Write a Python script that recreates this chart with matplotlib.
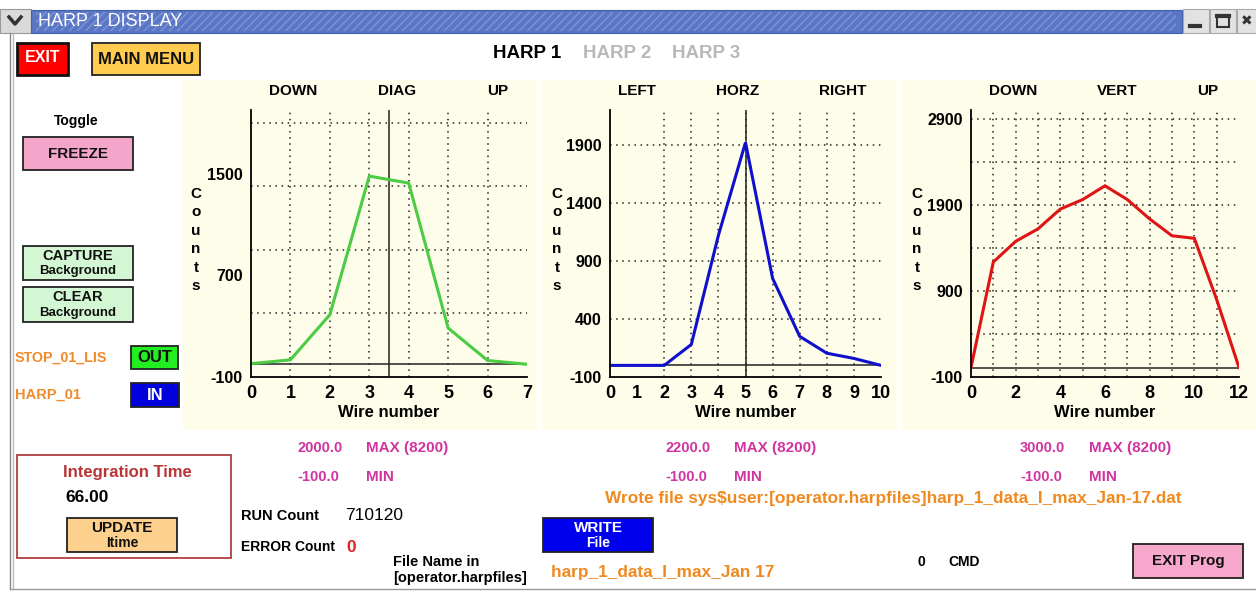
import matplotlib
matplotlib.use('Agg')
import matplotlib.pyplot as plt
from matplotlib.patches import Rectangle

plt.rcParams['font.family'] = ['Liberation Sans', 'DejaVu Sans']
plt.rcParams['font.weight'] = 'bold'

W, H = 1256, 592

diag_wires = [0, 1, 2, 3, 4, 5, 6, 7]
diag_counts = [5, 35, 390, 1480, 1425, 285, 30, 0]

horz_wires = [0, 1, 2, 3, 4, 5, 6, 7, 8, 9, 10]
horz_counts = [0, 0, 0, 180, 1120, 1920, 750, 250, 105, 60, 0]

vert_wires = [0, 1, 2, 3, 4, 5, 6, 7, 8, 9, 10, 11, 12]
vert_counts = [10, 1235, 1475, 1620, 1850, 1960, 2120, 1960, 1735, 1540, 1510, 800, 10]

diag_yticks = [-100, 700, 1500]
horz_yticks = [-100, 400, 900, 1400, 1900]
vert_yticks = [-100, 900, 1900, 2900]

max_vals = ['2000.0', '2200.0', '3000.0']
min_vals = ['-100.0', '-100.0', '-100.0']

CREAM = '#fdfdea'

fig = plt.figure(figsize=(W / 100, H / 100), dpi=100)
bg = fig.add_axes([0, 0, 1, 1])
bg.set_xlim(0, W)
bg.set_ylim(H, 0)
bg.axis('off')


def box(x0, y0, x1, y1, face, edge='#222222', lw=1.3, **kw):
    bg.add_patch(Rectangle((x0, y0), x1 - x0, y1 - y0, facecolor=face,
                           edgecolor=edge, lw=lw, **kw))


def txt(x, y, s, size=10, color='black', ha='left', weight='bold', **kw):
    bg.text(x, y, s, fontsize=size, color=color, ha=ha, va='center',
            fontweight=weight, **kw)


def button(x0, y0, x1, y1, face, lines, tcolor='#111111', size=10.5):
    box(x0, y0, x1, y1, face)
    cx = (x0 + x1) / 2
    if len(lines) == 1:
        txt(cx, (y0 + y1) / 2, lines[0], size, tcolor, ha='center')
    else:
        txt(cx, y0 + (y1 - y0) * 0.28, lines[0], size, tcolor, ha='center')
        txt(cx, y0 + (y1 - y0) * 0.74, lines[1], size - 1, tcolor, ha='center')


# window title bar
box(0, 9, 31, 33, '#dadada', edge='#999999', lw=0.8)
bg.plot([9, 15, 21], [17, 24, 17], color='#333333', lw=2.5)
box(31, 10, 1182, 33, '#5a76c4', edge='#4060b0', lw=0.8)
bg.add_patch(Rectangle((36, 12), 1140, 19, facecolor='none',
                       edgecolor='#7e96d8', lw=0, hatch='////'))
txt(38, 21.5, 'HARP 1 DISPLAY', 13, 'white', weight='normal')
for x0 in [1183, 1210, 1237]:
    box(x0, 9, x0 + 26, 33, '#e2e2e2', edge='#aaaaaa', lw=0.8)
bg.plot([1190, 1200], [26, 26], color='#333333', lw=3)
box(1217, 15, 1229, 27, 'none', edge='#333333', lw=1.5)
bg.plot([1217, 1229], [16, 16], color='#333333', lw=3)
txt(1247, 21, '✖', 10, '#333333', ha='center', family='DejaVu Sans')

# window border
bg.plot([10, 10], [33, 589], color='#888888', lw=1)
bg.plot([13, 13], [33, 589], color='#bbbbbb', lw=1)
bg.plot([10, W], [589, 589], color='#999999', lw=1)

# top row
box(17, 43, 68, 75, '#ff0000', edge='#111111', lw=2)
txt(43, 58, 'EXIT', 11.5, 'white', ha='center')
button(92, 43, 200, 75, '#ffcc4f', ['MAIN MENU'], size=12)
txt(527, 54, 'HARP 1', 13.5, 'black', ha='center')
txt(617, 54, 'HARP 2', 13.5, '#b8b8b8', ha='center')
txt(706, 54, 'HARP 3', 13.5, '#b8b8b8', ha='center')

# left column
txt(76, 121, 'Toggle', 10, ha='center')
button(23, 137, 133, 170, '#f4a6ca', ['FREEZE'], size=11)
button(23, 246, 133, 280, '#d2f7d2', ['CAPTURE', 'Background'])
button(23, 287, 133, 322, '#d2f7d2', ['CLEAR', 'Background'])
txt(15, 358, 'STOP_01_LIS', 10.3, '#f08a2a')
button(131, 346, 178, 369, '#22ee22', ['OUT'], size=12)
txt(15, 395, 'HARP_01', 10.5, '#f08a2a')
button(131, 383, 179, 407, '#0000dd', ['IN'], tcolor='white', size=12)

# plot panels
for x0, x1 in [(183, 537), (542, 897), (902, W)]:
    bg.add_patch(Rectangle((x0, 80), x1 - x0, 350, facecolor=CREAM, lw=0))

panels = [
    (251, 527, diag_wires, diag_counts, 2000, diag_yticks, 1, '#4ccc44',
     ['DOWN', 'DIAG', 'UP'], [293, 397, 498], 3.5, 196),
    (610, 881, horz_wires, horz_counts, 2200, horz_yticks, 1, '#1010cc',
     ['LEFT', 'HORZ', 'RIGHT'], [637, 738, 843], 5, 557),
    (971, 1239, vert_wires, vert_counts, 3000, vert_yticks, 2, '#dd1515',
     ['DOWN', 'VERT', 'UP'], [1013, 1117, 1208], None, 917),
]

y0, y1 = 110, 377
for (x0, x1, wires, counts, ymax, yticks, xstep, col, heads, hx, centre,
     cx) in panels:
    ax = fig.add_axes([x0 / W, (H - y1) / H, (x1 - x0) / W, (y1 - y0) / H])
    ax.set_facecolor('none')
    xmax = wires[-1]
    ax.set_xlim(0, xmax)
    ax.set_ylim(-100, ymax)
    for s in ['top', 'right']:
        ax.spines[s].set_visible(False)
    for s in ['left', 'bottom']:
        ax.spines[s].set_linewidth(1.3)
    gx = [w for w in range(1, xmax) if not (xmax == 10 and w == 1)]
    for g in gx:
        ax.axvline(g, color='#222222', lw=1.1, ls=(0, (1, 3)))
    for g in range(400, ymax + 1, 500):
        ax.axhline(g, color='#222222', lw=1.1, ls=(0, (1, 3)))
    ax.axhline(0, color='#222222', lw=1.1)
    if centre is not None:
        ax.axvline(centre, color='#222222', lw=1.1)
    ax.plot(wires, counts, color=col, lw=2.2, solid_joinstyle='miter')
    ax.set_yticks(yticks)
    ax.set_yticklabels([str(v) for v in yticks], fontsize=11.5,
                       fontweight='bold')
    ax.set_xticks(range(0, xmax + 1, xstep))
    ax.set_xticklabels([str(v) for v in range(0, xmax + 1, xstep)],
                       fontsize=13, fontweight='bold')
    ax.tick_params(length=0, pad=6)
    ax.tick_params(axis='x', pad=6)
    ax.set_xlabel('Wire number', fontsize=12, fontweight='bold', labelpad=2)
    for h, x in zip(heads, hx):
        txt(x, 91, h, 11, ha='center')
    txt(cx, 240, 'C\no\nu\nn\nt\ns', 11, ha='center', linespacing=1.4)

# max / min readouts
for i, x in enumerate([297, 665, 1020]):
    txt(x, 448, max_vals[i], 10.5, '#d0359f')
    txt(x + 69, 448, 'MAX (8200)', 11, '#d0359f')
    txt(x, 477, min_vals[i], 10.5, '#d0359f')
    txt(x + 69, 477, 'MIN', 11, '#d0359f')

# bottom controls
box(17, 455, 231, 558, 'white', edge='#b04040', lw=1.3)
txt(127, 473, 'Integration Time', 12, '#b83535', ha='center')
txt(65, 498, '66.00', 12.5)
button(67, 518, 177, 552, '#fdd08e', ['UPDATE', 'Itime'], size=11)

txt(241, 516, 'RUN Count', 10.5)
txt(345, 516, '710120', 12.5, weight='normal')
txt(241, 547, 'ERROR Count', 10)
txt(346, 547, '0', 12.5, '#e02020')
txt(393, 562, 'File Name in', 10.5)
txt(393, 578, '[operator.harpfiles]', 10.5)

button(543, 518, 653, 552, '#0000ee', ['WRITE', 'File'], tcolor='white',
       size=11)
txt(605, 498, 'Wrote file sys$user:[operator.harpfiles]harp_1_data_I_max_Jan-17.dat',
    12.4, '#ee8a20')
txt(551, 572, 'harp_1_data_I_max_Jan 17', 12.4, '#ee8a20')
txt(918, 562, '0', 10)
txt(948, 562, 'CMD', 10)
button(1133, 544, 1243, 578, '#f8a8cc', ['EXIT Prog'], size=11)

fig.savefig('out.png', dpi=100)
